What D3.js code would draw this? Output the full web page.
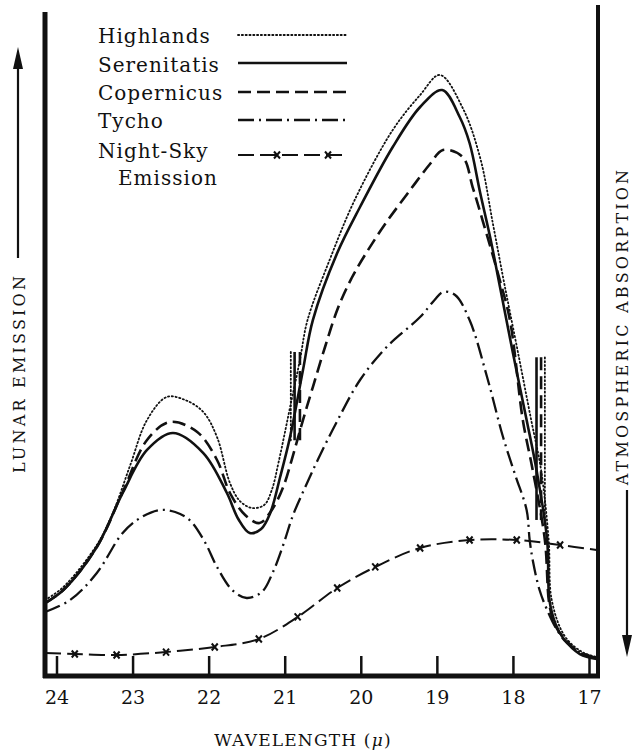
<!DOCTYPE html>
<html>
<head>
<meta charset="utf-8">
<script src="https://cdn.jsdelivr.net/npm/d3@7/dist/d3.min.js"></script>
<style>
  html, body { margin: 0; padding: 0; background: #fff; }
  svg { display: block; }
</style>
</head>
<body>
<svg id="chart" width="635" height="754"></svg>
<script>
// ---------- DATA (wavelength in microns, relative emission) ----------
const wavelengthTicks = [24, 23, 22, 21, 20, 19, 18, 17];

const highlands = [
  [24.15,11.45],[23.91,13.40],[23.47,19.73],[23.26,24.55],[23.03,31.78],[22.81,38.55],
  [22.55,42.02],[22.31,41.57],[22.07,39.76],[21.89,35.99],[21.72,29.07],[21.59,26.36],
  [21.43,25.30],[21.27,25.75],[21.17,28.01],[21.08,32.23],[20.91,41.57],[20.80,47.59],
  [20.70,53.61],[20.41,62.65],[20.08,71.69],[19.58,82.23],[19.22,87.50],[18.96,90.51],
  [18.66,85.54],[18.43,78.01],[18.26,67.92],[18.11,58.89],[17.94,49.10],[17.76,38.55],
  [17.63,31.02],[17.53,20.48],[17.49,11.45],[17.32,6.02],[17.09,3.61],[16.90,2.86]
];

const serenitatis = [
  [24.15,10.99],[23.91,12.95],[23.47,19.43],[23.13,27.56],[22.81,34.04],[22.47,36.60],
  [22.07,33.58],[21.76,27.56],[21.61,23.64],[21.46,21.54],[21.31,22.14],[21.19,24.55],
  [21.06,29.97],[20.93,35.99],[20.76,46.08],[20.63,53.61],[20.31,63.70],[20.01,70.63],
  [19.58,79.67],[19.22,85.69],[18.93,88.25],[18.70,84.19],[18.57,80.27],[18.43,72.74],
  [18.30,66.11],[18.17,58.58],[18.00,48.64],[17.82,38.55],[17.69,31.02],[17.55,20.48],
  [17.52,11.45],[17.44,7.83],[17.34,5.72],[17.12,3.31],[16.90,2.56]
];

const copernicus = [
  [24.15,10.99],[23.91,12.95],[23.47,19.43],[23.13,27.71],[22.81,35.54],[22.51,38.25],
  [22.15,36.75],[21.89,32.53],[21.72,27.56],[21.52,24.25],[21.33,23.04],[21.17,25.00],
  [21.02,28.46],[20.89,33.28],[20.76,38.55],[20.63,43.52],[20.47,49.55],[20.30,55.42],
  [20.12,59.94],[19.92,63.86],[19.68,68.07],[19.39,72.59],[19.09,77.11],[18.92,79.22],
  [18.66,78.16],[18.53,73.64],[18.40,68.67],[18.21,61.14],[18.04,53.61],[17.87,38.55],
  [17.74,31.02],[17.58,20.48],[17.52,10.69],[17.44,7.50],[17.34,5.87],[17.12,3.46],
  [16.90,2.71]
];

const tycho = [
  [24.15,9.64],[23.82,11.45],[23.47,15.51],[23.13,21.54],[22.90,23.80],[22.64,25.00],
  [22.44,24.70],[22.25,23.49],[22.05,20.18],[21.89,16.42],[21.69,12.95],[21.50,11.75],
  [21.30,12.65],[21.16,15.51],[21.02,19.73],[20.89,24.25],[20.73,28.46],[20.56,32.68],
  [20.31,38.40],[20.01,44.58],[19.66,49.55],[19.22,54.07],[19.03,56.63],[18.92,57.83],
  [18.76,57.38],[18.57,53.61],[18.34,45.03],[18.13,35.99],[17.97,30.27],[17.82,25.00],
  [17.78,20.48],[17.74,17.47],[17.65,12.95],[17.55,9.94],[17.42,6.93],[17.29,4.97],
  [17.09,3.46],[16.90,2.71]
];

const nightSky = [
  [24.15,3.46],[23.76,3.31],[23.21,3.16],[22.56,3.61],[21.92,4.37],[21.34,5.57],
  [20.83,8.89],[20.31,13.25],[19.81,16.42],[19.22,19.28],[18.57,20.48],[17.95,20.48],
  [17.38,19.73],[16.90,18.98]
];

// short near-vertical strokes at the atmospheric window edges: [series, wavelength, low, high]
const edgeMarks = [
  ["Highlands", 20.92, 35.5, 48.8],
  ["Serenitatis", 20.87, 35.5, 48.8],
  ["Copernicus", 20.80, 35.5, 48.8],
  ["Serenitatis", 17.69, 23.5, 48.0],
  ["Copernicus", 17.63, 23.5, 48.0],
  ["Highlands", 17.58, 23.5, 48.0]
];

const seriesNames = ["Highlands", "Serenitatis", "Copernicus", "Tycho", "Night-Sky"];

// ---------- STYLES ----------
const styles = {
  "Highlands":   { width: 1.8, dash: "1.2,2.6", cap: "round" },
  "Serenitatis": { width: 2.6, dash: null, cap: "butt" },
  "Copernicus":  { width: 2.6, dash: "13,6", cap: "butt" },
  "Tycho":       { width: 2.3, dash: "16,5,2,5", cap: "butt" },
  "Night-Sky":   { width: 2.0, dash: "16,6", cap: "butt" }
};
const seriesData = {
  "Highlands": highlands, "Serenitatis": serenitatis, "Copernicus": copernicus,
  "Tycho": tycho, "Night-Sky": nightSky
};

const svg = d3.select("#chart");
const ink = "#111";
const serif = "'DejaVu Serif', 'Liberation Serif', serif";

const x = d3.scaleLinear().domain([24, 17]).range([56.5, 589]);
const y = d3.scaleLinear().domain([0, 100]).range([676, 12]);

const line = d3.line()
  .x(d => x(d[0])).y(d => y(d[1]))
  .curve(d3.curveCatmullRom.alpha(0.5));

function applyStyle(sel, name) {
  const s = styles[name];
  sel.attr("fill", "none").attr("stroke", ink)
     .attr("stroke-width", s.width)
     .attr("stroke-linecap", s.cap)
     .attr("stroke-linejoin", "round");
  if (s.dash) sel.attr("stroke-dasharray", s.dash);
}

// ---------- CURVES ----------
const plot = svg.append("g");
["Night-Sky", "Tycho", "Copernicus", "Serenitatis", "Highlands"].forEach(name => {
  plot.append("path").datum(seriesData[name]).attr("d", line).call(applyStyle, name);
});

// crosses on night-sky curve
const cross = "M-3,-3.5L3,3.5M3,-3.5L-3,3.5";
plot.selectAll(".xmark").data(nightSky.slice(1, -1)).join("path")
  .attr("class", "xmark")
  .attr("transform", d => `translate(${x(d[0])},${y(d[1])})`)
  .attr("d", cross).attr("stroke", ink).attr("stroke-width", 2).attr("fill", "none");

// edge marks
plot.selectAll(".edge").data(edgeMarks).join("line")
  .attr("class", "edge")
  .attr("x1", d => x(d[1])).attr("x2", d => x(d[1]))
  .attr("y1", d => y(d[3])).attr("y2", d => y(d[2]))
  .each(function(d) { d3.select(this).call(applyStyle, d[0]); });

// ---------- FRAME ----------
svg.append("line").attr("x1", 45).attr("x2", 45).attr("y1", 12).attr("y2", 678)
  .attr("stroke", ink).attr("stroke-width", 5);
svg.append("line").attr("x1", 43).attr("x2", 600).attr("y1", 676).attr("y2", 676)
  .attr("stroke", ink).attr("stroke-width", 5);
svg.append("line").attr("x1", 598).attr("x2", 598).attr("y1", 5).attr("y2", 678)
  .attr("stroke", ink).attr("stroke-width", 4);

// ---------- X AXIS ----------
const xAxis = d3.axisBottom(x).tickValues(wavelengthTicks)
  .tickFormat(d3.format("d")).tickSizeInner(-20).tickSizeOuter(0).tickPadding(15);
const gx = svg.append("g").attr("transform", "translate(0,676)").call(xAxis);
gx.select(".domain").remove();
gx.selectAll(".tick line").attr("stroke", ink).attr("stroke-width", 2.5);
gx.selectAll(".tick text").attr("fill", ink)
  .style("font-family", serif).style("font-size", "19px");

const title = svg.append("text").attr("x", 303).attr("y", 746)
  .attr("text-anchor", "middle").attr("fill", ink)
  .style("font-family", serif).style("font-size", "17px").style("letter-spacing", "1.2px");
title.append("tspan").text("WAVELENGTH (");
title.append("tspan").style("font-style", "italic").text("\u03bc");
title.append("tspan").text(")");

// ---------- SIDE LABELS WITH ARROWS ----------
function arrow(x0, yTail, yTip) {
  const dir = yTip < yTail ? 1 : -1;
  svg.append("line").attr("x1", x0).attr("x2", x0).attr("y1", yTail).attr("y2", yTip + dir * 14)
    .attr("stroke", ink).attr("stroke-width", 2.2);
  svg.append("path")
    .attr("d", `M${x0},${yTip}L${x0 - 5},${yTip + dir * 22}L${x0 + 5},${yTip + dir * 22}Z`)
    .attr("fill", ink);
}
arrow(18, 258, 47);
arrow(627, 490, 657);

svg.append("text").attr("transform", "translate(25,373) rotate(-90)")
  .attr("text-anchor", "middle").attr("fill", ink)
  .style("font-family", serif).style("font-size", "16px").style("letter-spacing", "3.2px")
  .text("LUNAR EMISSION");
svg.append("text").attr("transform", "translate(628,326) rotate(-90)")
  .attr("text-anchor", "middle").attr("fill", ink)
  .style("font-family", serif).style("font-size", "16px").style("letter-spacing", "3.2px")
  .text("ATMOSPHERIC ABSORPTION");

// ---------- LEGEND ----------
const legend = svg.append("g");
const rowY = [35, 63, 92, 120, 155];
const textY = [43, 72, 100, 128, 158];
seriesNames.forEach((name, i) => {
  legend.append("text").attr("x", 98).attr("y", textY[i]).attr("fill", ink)
    .style("font-family", serif).style("font-size", "20px").style("letter-spacing", "1px")
    .text(name);
  legend.append("line").attr("x1", 238).attr("x2", 347).attr("y1", rowY[i]).attr("y2", rowY[i])
    .call(applyStyle, name);
});
legend.append("text").attr("x", 118).attr("y", 185).attr("fill", ink)
  .style("font-family", serif).style("font-size", "20px").style("letter-spacing", "1px")
  .text("Emission");
legend.selectAll(".lx").data([277, 328]).join("path")
  .attr("transform", d => `translate(${d},${rowY[4]})`)
  .attr("d", cross).attr("stroke", ink).attr("stroke-width", 2).attr("fill", "none");
</script>
</body>
</html>
